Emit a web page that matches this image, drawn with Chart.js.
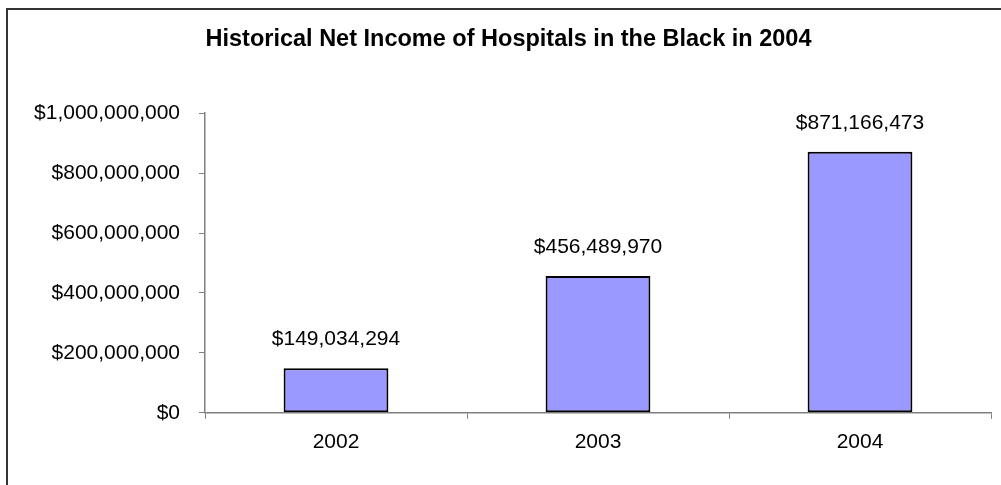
<!DOCTYPE html>
<html>
<head>
<meta charset="utf-8">
<script src="https://cdn.jsdelivr.net/npm/chart.js@4"></script>
<style>
  html, body { margin: 0; padding: 0; background: #fff; }
  #wrap { width: 1001px; height: 485px; position: relative; }
</style>
</head>
<body>
<div id="wrap"><canvas id="chart"></canvas></div>
<script>
// chart data
const years = ['2002', '2003', '2004'];
const netIncome = [149034294, 456489970, 871166473];
const yTicks = [0, 200000000, 400000000, 600000000, 800000000, 1000000000];

const money = v => '$' + Number(v).toLocaleString('en-US');
const FONT = '"Liberation Sans", Arial, sans-serif';

// outer frame (left/top edges only, the rest runs off the picture)
const framePlugin = {
    id: 'frame',
    beforeDraw(chart) {
        const ctx = chart.ctx;
        ctx.save();
        ctx.strokeStyle = '#333';
        ctx.lineWidth = 2;
        ctx.strokeRect(7, 9, chart.width + 20, chart.height + 20);
        ctx.restore();
    }
};

// value labels above the bars
const valueLabels = {
    id: 'valueLabels',
    afterDatasetsDraw(chart) {
        const ctx = chart.ctx;
        ctx.save();
        ctx.font = '21px ' + FONT;
        ctx.fillStyle = '#000';
        ctx.textAlign = 'center';
        ctx.textBaseline = 'middle';
        chart.getDatasetMeta(0).data.forEach((bar, i) => {
            ctx.fillText(money(netIncome[i]), bar.x, bar.y - 29);
        });
        ctx.restore();
    }
};

new Chart(document.getElementById('chart'), {
    type: 'bar',
    data: {
        labels: years,
        datasets: [{
            data: netIncome,
            backgroundColor: '#9999FF',
            borderColor: '#000',
            borderWidth: 2,
            borderSkipped: false,
            barPercentage: 0.4,
            categoryPercentage: 1
        }]
    },
    options: {
        responsive: true,
        maintainAspectRatio: false,
        animation: false,
        layout: { padding: { left: 26, right: 10, top: 0, bottom: 19 } },
        plugins: {
            legend: { display: false },
            tooltip: { enabled: false },
            title: {
                display: true,
                text: 'Historical Net Income of Hospitals in the Black in 2004',
                color: '#000',
                font: { family: FONT, size: 23.5, weight: 'bold' },
                padding: { top: 25, bottom: 60 }
            }
        },
        scales: {
            x: {
                grid: {
                    offset: true,
                    drawOnChartArea: false,
                    drawTicks: true,
                    tickLength: 6,
                    color: '#808080'
                },
                border: { display: true, color: '#808080', width: 1.5 },
                ticks: { color: '#000', padding: 11, font: { family: FONT, size: 21 } }
            },
            y: {
                min: 0,
                max: 1000000000,
                afterBuildTicks(scale) {
                    scale.ticks = yTicks.map(v => ({ value: v }));
                },
                afterFit(scale) { scale.width = 179; },
                grid: {
                    drawOnChartArea: false,
                    drawTicks: true,
                    tickLength: 6,
                    color: '#808080'
                },
                border: { display: true, color: '#808080', width: 1.5 },
                ticks: {
                    color: '#000',
                    padding: 19,
                    font: { family: FONT, size: 21 },
                    callback: v => money(v)
                }
            }
        }
    },
    plugins: [framePlugin, valueLabels]
});
</script>
</body>
</html>
